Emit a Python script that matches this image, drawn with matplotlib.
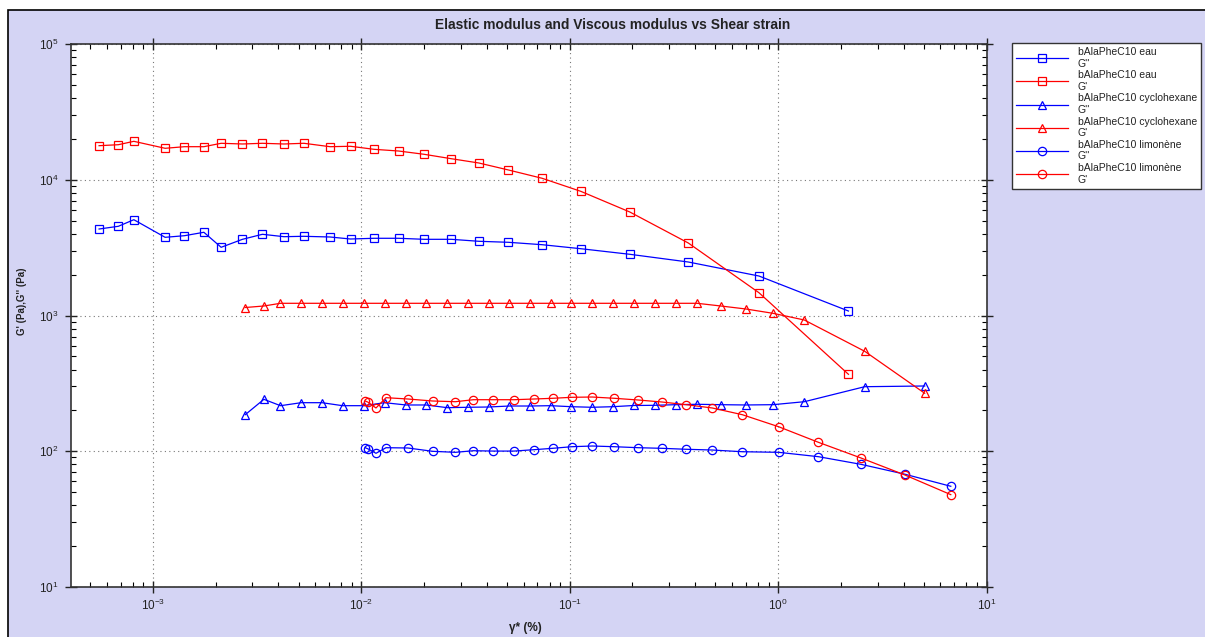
import matplotlib.pyplot as plt
from matplotlib.patches import Rectangle
from matplotlib.ticker import LogLocator, NullFormatter

plt.rcParams['font.family'] = ['Liberation Sans', 'DejaVu Sans']
plt.rcParams['mathtext.fontset'] = 'custom'
plt.rcParams['mathtext.rm'] = 'Liberation Sans'

# strain (%) for the water sample
strain_eau = [5.51e-4, 6.82e-4, 8.09e-4, 1.143e-3, 1.415e-3, 1.754e-3, 2.123e-3, 2.687e-3,
              3.35e-3, 4.25e-3, 5.30e-3, 7.07e-3, 8.87e-3, 0.01149, 0.0151, 0.0200, 0.0270,
              0.0366, 0.0508, 0.0737, 0.1129, 0.1942, 0.3705, 0.809, 2.175]
g2_eau = [4337, 4541, 5078, 3767, 3871, 4102, 3180, 3641, 3965, 3807, 3832, 3787, 3660,
          3705, 3705, 3641, 3641, 3521, 3461, 3323, 3105, 2824, 2478, 1954, 1079]
g1_eau = [17820, 18120, 19190, 17050, 17520, 17520, 18560, 18340, 18560, 18340, 18560,
          17520, 17640, 16760, 16280, 15400, 14290, 13290, 11800, 10250, 8220, 5786, 3421,
          1472, 368.8]

# cyclohexane
strain_cyc = [2.770e-3, 3.405e-3, 4.090e-3, 5.144e-3, 6.467e-3, 8.121e-3, 0.01029, 0.01292,
              0.01637, 0.02043, 0.02586, 0.03243, 0.04078, 0.05133, 0.06447, 0.08096, 0.1018,
              0.1281, 0.1609, 0.2032, 0.2561, 0.3226, 0.4083, 0.5306, 0.6997, 0.9441, 1.336,
              2.603, 5.053]
g2_cyc = [185.9, 241.3, 216.6, 227.9, 227.9, 216.6, 216.6, 227.9, 219.2, 219.2, 209.4, 210.8,
          211.8, 215.4, 215.4, 216.6, 212.9, 210.8, 212.9, 217.3, 218.0, 220.3, 221.8, 220.3,
          219.2, 220.3, 231.7, 298.9, 302.5]
g1_cyc = [1145, 1175, 1230, 1230, 1230, 1230, 1230, 1230, 1230, 1230, 1230, 1230, 1230, 1230,
          1230, 1230, 1230, 1230, 1230, 1230, 1230, 1230, 1230, 1175, 1117, 1038, 926.5, 545,
          267.3]

# limonene
strain_lim = [0.01044, 0.01079, 0.01175, 0.01313, 0.0167, 0.02198, 0.02825, 0.03447, 0.043,
              0.05408, 0.06745, 0.0828, 0.1022, 0.1281, 0.1639, 0.2131, 0.2765, 0.3623, 0.483,
              0.673, 1.0055, 1.56, 2.498, 4.064, 6.739]
g2_lim = [106.2, 103.9, 96.6, 106.2, 105.7, 99.9, 98.2, 100.9, 100.3, 100.3, 102.7, 105.1,
          108.0, 109.3, 108.0, 106.2, 105.1, 103.4, 102.1, 99.2, 98.2, 91.2, 80.1, 67.7, 55.2]
g1_lim = [234.5, 229.4, 208.3, 248.1, 242.6, 234.5, 231.7, 239.7, 239.7, 239.7, 242.6, 245.5,
          249.7, 250.9, 245.5, 238.5, 230.6, 220.3, 208.3, 185.9, 151.6, 116.4, 89.2, 66.8, 47.9]

series = [
    ("bAlaPheC10 eau\nG''", strain_eau, g2_eau, 'blue', 's'),
    ("bAlaPheC10 eau\nG'", strain_eau, g1_eau, 'red', 's'),
    ("bAlaPheC10 cyclohexane\nG''", strain_cyc, g2_cyc, 'blue', '^'),
    ("bAlaPheC10 cyclohexane\nG'", strain_cyc, g1_cyc, 'red', '^'),
    ("bAlaPheC10 limonène\nG''", strain_lim, g2_lim, 'blue', 'o'),
    ("bAlaPheC10 limonène\nG'", strain_lim, g1_lim, 'red', 'o'),
]

W, H = 1205, 637
fig = plt.figure(figsize=(W / 100, H / 100), dpi=100, facecolor='white')

# lavender panel with black border on top/left
fig.patches.append(Rectangle((8 / W, -0.1), 1.2, 0.1 + (H - 10) / H, transform=fig.transFigure,
                             facecolor='#D4D4F4', edgecolor='black', linewidth=1.2, zorder=-10))

ax = fig.add_axes([71 / W, (H - 587) / H, (986.5 - 71) / W, (587 - 44) / H])
ax.set_facecolor('white')

for label, x, y, col, mk in series:
    ax.plot(x, y, color=col, lw=0.9, marker=mk, markersize=6, markerfacecolor='none',
            markeredgecolor=col, markeredgewidth=0.9, label=label)

ax.set_xscale('log')
ax.set_yscale('log')
ax.set_xlim(4.04e-4, 10)
ax.set_ylim(10, 1e5)

for a in (ax.xaxis, ax.yaxis):
    a.set_major_locator(LogLocator(base=10))
    a.set_minor_locator(LogLocator(base=10, subs=range(2, 10), numticks=20))
    a.set_minor_formatter(NullFormatter())

ax.tick_params(which='major', direction='inout', length=8, width=1, top=True, right=True,
               labelsize=8.5, colors='#222222', pad=5)
ax.tick_params(axis='x', which='major', pad=4)
ax.tick_params(which='minor', direction='in', length=3.5, width=0.8, top=True, right=True)
ax.grid(True, which='major', color='#777777', linestyle=(0, (1, 3)), linewidth=0.8)
for s in ax.spines.values():
    s.set_linewidth(1.2)
    s.set_color('#333333')

fig.text(613 / W, (H - 25) / H, 'Elastic modulus and Viscous modulus vs Shear strain',
         ha='center', va='center', fontsize=9.9, fontweight='bold', color='#222222')
fig.text(525 / W, (H - 628) / H, 'γ* (%)', ha='center', va='center', fontsize=8.5,
         fontweight='bold', color='#222222')
fig.text(22 / W, (H - 301) / H, "G' (Pa),G'' (Pa)", ha='center', va='center', rotation=90,
         fontsize=7, fontweight='bold', color='#222222')

leg = fig.legend(loc='upper left', bbox_to_anchor=(1012 / W, (H - 43) / H), fontsize=7.5,
                 handlelength=5.0, handletextpad=0.9, labelspacing=0.15, borderpad=0.4,
                 borderaxespad=0, fancybox=False, frameon=True, edgecolor='#333333',
                 framealpha=1)
leg.get_frame().set_linewidth(1)
for t in leg.get_texts():
    t.set_color('#222222')

fig.savefig('out.png', dpi=100, facecolor=fig.get_facecolor())
